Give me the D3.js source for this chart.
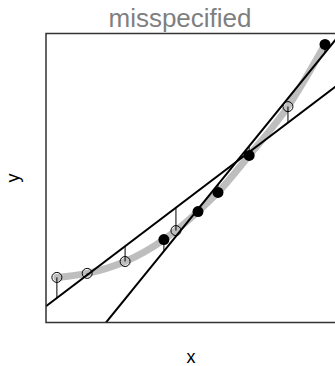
<!DOCTYPE html>
<html>
<head>
<meta charset="utf-8">
<script src="https://cdn.jsdelivr.net/npm/d3@7"></script>
<style>
html,body{margin:0;padding:0;background:#fff;overflow:hidden;}
svg{display:block;font-family:"Liberation Sans",Arial,sans-serif;}
</style>
</head>
<body>
<svg id="chart" width="335" height="366"></svg>
<script>
// Data
const title = "misspecified";
const xLabel = "x";
const yLabel = "y";
const xDomain = [0, 10];
const yDomain = [0, 10];
const openX = [0.37, 1.40, 2.69, 4.42, 8.23];
const openY = [1.56, 1.70, 2.11, 3.18, 7.47];
const filledX = [4.01, 5.17, 5.85, 6.91, 9.49];
const filledY = [2.87, 3.84, 4.50, 5.78, 9.62];

(function () {
const svg = d3.select("#chart");
const pL = 46, pR = 340, pT = 33.5, pB = 322.5;
const x = d3.scaleLinear().domain(xDomain).range([pL, pR]);
const y = d3.scaleLinear().domain(yDomain).range([pB, pT]);

function ols(xs, ys) {
  const mx = d3.mean(xs), my = d3.mean(ys);
  let sxy = 0, sxx = 0;
  xs.forEach((v, i) => { sxy += (v - mx) * (ys[i] - my); sxx += (v - mx) * (v - mx); });
  const b = sxy / sxx;
  return { a: my - b * mx, b };
}
const fitOpen = ols(openX, openY);
const fitFilled = ols(filledX, filledY);

svg.append("defs").append("clipPath").attr("id", "clip")
  .append("rect").attr("x", pL).attr("y", pT)
  .attr("width", pR - pL).attr("height", pB - pT);

const plot = svg.append("g").attr("clip-path", "url(#clip)");

// true curve through all points
const all = openX.map((v, i) => [v, openY[i]])
  .concat(filledX.map((v, i) => [v, filledY[i]]))
  .sort((p, q) => p[0] - q[0]);
plot.append("path")
  .attr("d", d3.line().x(d => x(d[0])).y(d => y(d[1])).curve(d3.curveMonotoneX)(all))
  .attr("fill", "none").attr("stroke", "#bebebe").attr("stroke-width", 7)
  .attr("stroke-linecap", "round");

// fitted lines
[fitOpen, fitFilled].forEach(f => {
  plot.append("line")
    .attr("x1", x(xDomain[0])).attr("y1", y(f.a + f.b * xDomain[0]))
    .attr("x2", x(xDomain[1])).attr("y2", y(f.a + f.b * xDomain[1]))
    .attr("stroke", "#000").attr("stroke-width", 2);
});

// residual segments
openX.forEach((v, i) => {
  plot.append("line")
    .attr("x1", x(v)).attr("x2", x(v))
    .attr("y1", y(openY[i])).attr("y2", y(fitOpen.a + fitOpen.b * v))
    .attr("stroke", "#000").attr("stroke-width", 1);
});
filledX.forEach((v, i) => {
  plot.append("line")
    .attr("x1", x(v)).attr("x2", x(v))
    .attr("y1", y(filledY[i])).attr("y2", y(fitFilled.a + fitFilled.b * v))
    .attr("stroke", "#000").attr("stroke-width", 1);
});

// points
openX.forEach((v, i) => {
  svg.append("circle").attr("cx", x(v)).attr("cy", y(openY[i])).attr("r", 5)
    .attr("fill", "none").attr("stroke", "#000").attr("stroke-width", 1);
});
filledX.forEach((v, i) => {
  svg.append("circle").attr("cx", x(v)).attr("cy", y(filledY[i])).attr("r", 5.5)
    .attr("fill", "#000");
});

// box
svg.append("rect").attr("x", pL).attr("y", pT)
  .attr("width", pR - pL).attr("height", pB - pT)
  .attr("fill", "none").attr("stroke", "#333").attr("stroke-width", 1.5);

// texts
svg.append("text").attr("x", 180).attr("y", 27).attr("text-anchor", "middle")
  .attr("font-size", 26).attr("fill", "#7f7f7f").text(title);
svg.append("text").attr("x", 191).attr("y", 363).attr("text-anchor", "middle")
  .attr("font-size", 18).attr("fill", "#000").text(xLabel);
svg.append("text").attr("transform", "translate(19,178) rotate(-90)")
  .attr("text-anchor", "middle").attr("font-size", 18).attr("fill", "#000").text(yLabel);
})();
</script>
</body>
</html>
